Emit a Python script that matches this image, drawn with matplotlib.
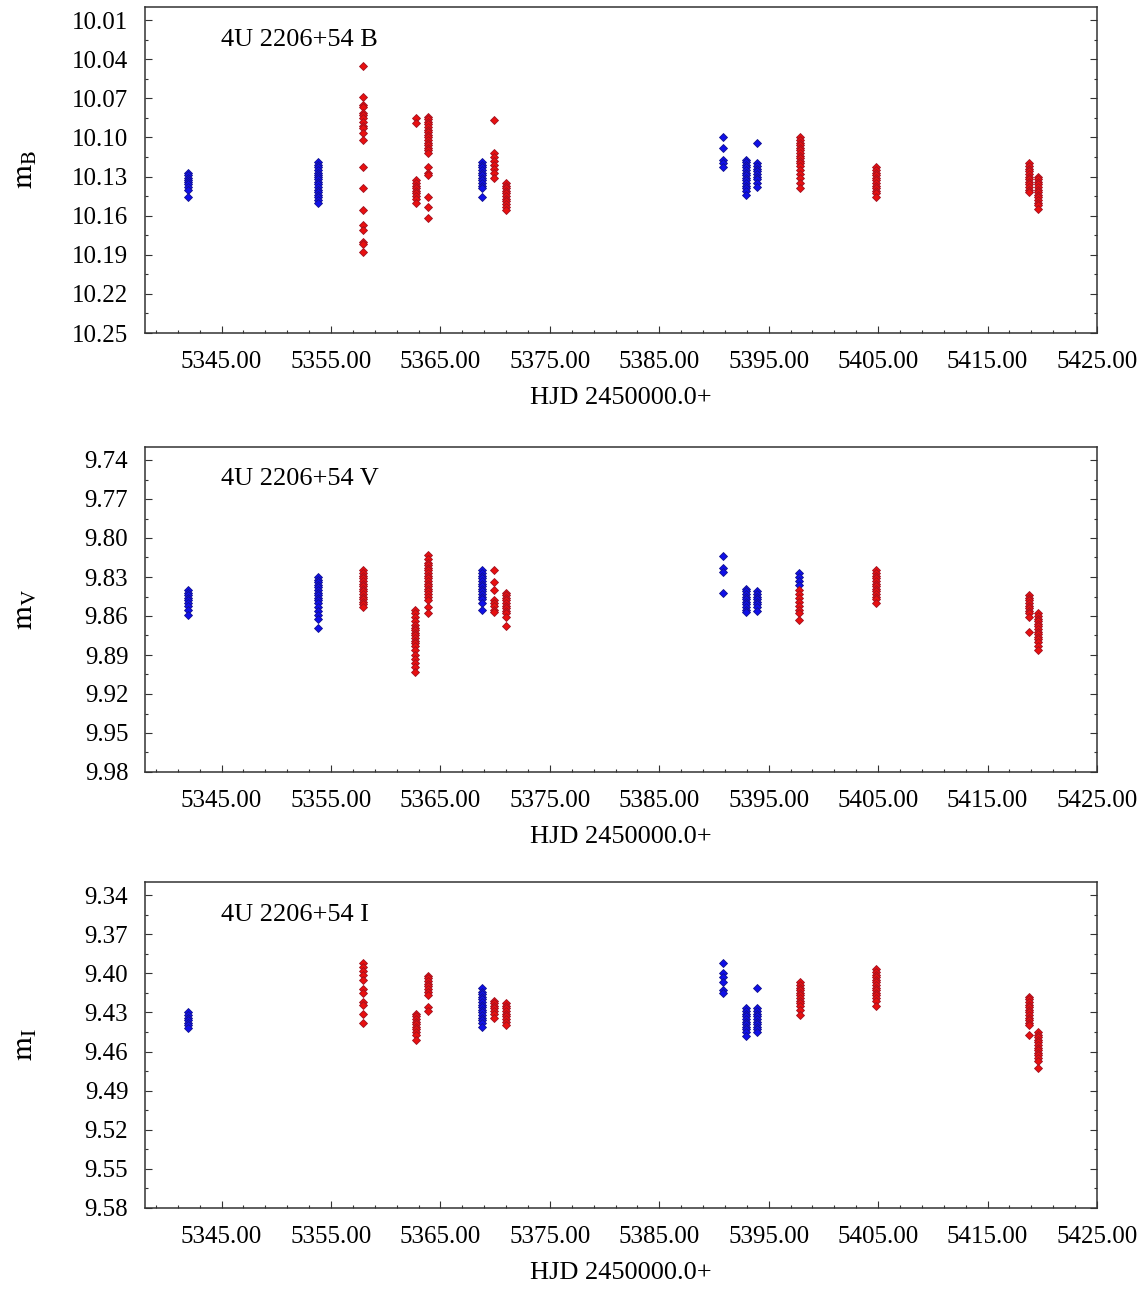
import numpy as np
import matplotlib
matplotlib.use("Agg")
import matplotlib.pyplot as plt
from matplotlib.ticker import FixedLocator, FormatStrFormatter

plt.rcParams["font.family"] = ["Liberation Serif", "DejaVu Serif"]
plt.rcParams["mathtext.fontset"] = "stix"

# ---------------- B band ----------------
b_blue_nights = [5341.9, 5353.8, 5368.8, 5390.8, 5392.9, 5393.9]
b_blue_mags = [
    [10.127, 10.129, 10.131, 10.133, 10.134, 10.136, 10.138, 10.140, 10.146],
    [10.119, 10.121, 10.123, 10.125, 10.127, 10.129, 10.130, 10.132, 10.134,
     10.136, 10.138, 10.140, 10.142, 10.144, 10.146, 10.148, 10.150],
    [10.119, 10.121, 10.123, 10.125, 10.127, 10.129, 10.131, 10.133, 10.135,
     10.137, 10.139, 10.146],
    [10.100, 10.108, 10.117, 10.120, 10.123],
    [10.117, 10.119, 10.121, 10.123, 10.125, 10.127, 10.129, 10.131, 10.133,
     10.135, 10.137, 10.139, 10.141, 10.144],
    [10.104, 10.120, 10.122, 10.124, 10.126, 10.128, 10.130, 10.132, 10.135, 10.138],
]
b_red_nights = [5357.9, 5362.8, 5363.9, 5369.9, 5371.0, 5397.9, 5404.8, 5418.8, 5419.6]
b_red_mags = [
    [10.045, 10.069, 10.075, 10.077, 10.081, 10.083, 10.085, 10.088, 10.091, 10.093,
     10.097, 10.102, 10.123, 10.139, 10.156, 10.167, 10.171, 10.180, 10.182, 10.188],
    [10.085, 10.089, 10.133, 10.135, 10.137, 10.139, 10.141, 10.143, 10.145, 10.147, 10.150],
    [10.084, 10.086, 10.088, 10.090, 10.092, 10.094, 10.096, 10.098, 10.100, 10.102,
     10.104, 10.106, 10.108, 10.110, 10.112, 10.123, 10.127, 10.129, 10.146, 10.153, 10.162],
    [10.087, 10.112, 10.115, 10.118, 10.121, 10.124, 10.127, 10.131],
    [10.135, 10.137, 10.139, 10.141, 10.143, 10.145, 10.147, 10.149, 10.151, 10.153, 10.156],
    [10.100, 10.102, 10.104, 10.106, 10.108, 10.110, 10.112, 10.114, 10.116, 10.118,
     10.120, 10.122, 10.125, 10.128, 10.131, 10.135, 10.139],
    [10.123, 10.125, 10.127, 10.129, 10.131, 10.133, 10.135, 10.137, 10.139, 10.141,
     10.143, 10.146],
    [10.120, 10.122, 10.124, 10.126, 10.128, 10.130, 10.132, 10.134, 10.136, 10.138,
     10.140, 10.142],
    [10.130, 10.132, 10.134, 10.136, 10.138, 10.140, 10.142, 10.144, 10.146, 10.148,
     10.150, 10.152, 10.155],
]

# ---------------- V band ----------------
v_blue_nights = [5341.9, 5353.8, 5368.8, 5390.8, 5392.9, 5393.9, 5397.8]
v_blue_mags = [
    [9.840, 9.842, 9.844, 9.846, 9.848, 9.850, 9.852, 9.855, 9.859],
    [9.830, 9.832, 9.834, 9.836, 9.838, 9.840, 9.842, 9.844, 9.846, 9.848, 9.850,
     9.853, 9.856, 9.859, 9.862, 9.869],
    [9.825, 9.827, 9.829, 9.831, 9.833, 9.835, 9.837, 9.839, 9.841, 9.843, 9.845,
     9.847, 9.850, 9.855],
    [9.814, 9.823, 9.826, 9.842],
    [9.839, 9.841, 9.843, 9.845, 9.847, 9.849, 9.851, 9.853, 9.855, 9.857],
    [9.841, 9.843, 9.845, 9.847, 9.849, 9.851, 9.853, 9.856],
    [9.827, 9.830, 9.833, 9.836],
]
v_red_nights = [5357.9, 5362.7, 5363.9, 5369.9, 5371.0, 5397.8, 5404.8, 5418.8, 5419.6]
v_red_mags = [
    [9.825, 9.827, 9.829, 9.831, 9.833, 9.835, 9.837, 9.839, 9.841, 9.843, 9.845,
     9.847, 9.849, 9.851, 9.853],
    [9.855, 9.858, 9.861, 9.864, 9.867, 9.869, 9.871, 9.873, 9.875, 9.877, 9.879,
     9.881, 9.883, 9.886, 9.890, 9.893, 9.896, 9.899, 9.903],
    [9.813, 9.816, 9.819, 9.821, 9.823, 9.825, 9.827, 9.829, 9.831, 9.833, 9.835,
     9.837, 9.839, 9.841, 9.843, 9.845, 9.848, 9.853, 9.858],
    [9.825, 9.834, 9.840, 9.848, 9.850, 9.852, 9.855, 9.857],
    [9.842, 9.844, 9.846, 9.848, 9.850, 9.852, 9.854, 9.856, 9.858, 9.861, 9.868],
    [9.840, 9.843, 9.846, 9.849, 9.852, 9.855, 9.858, 9.863],
    [9.825, 9.827, 9.829, 9.831, 9.833, 9.835, 9.837, 9.839, 9.841, 9.843, 9.845,
     9.847, 9.850],
    [9.844, 9.846, 9.848, 9.850, 9.852, 9.854, 9.856, 9.858, 9.861, 9.872],
    [9.858, 9.860, 9.862, 9.864, 9.866, 9.868, 9.870, 9.872, 9.874, 9.876, 9.878,
     9.880, 9.883, 9.886],
]

# ---------------- I band ----------------
i_blue_nights = [5341.9, 5368.8, 5390.8, 5392.9, 5393.9]
i_blue_mags = [
    [9.430, 9.432, 9.434, 9.436, 9.438, 9.440, 9.442],
    [9.411, 9.414, 9.416, 9.418, 9.420, 9.422, 9.424, 9.426, 9.428, 9.430, 9.432,
     9.434, 9.436, 9.438, 9.441],
    [9.392, 9.400, 9.403, 9.407, 9.413, 9.415],
    [9.427, 9.429, 9.431, 9.433, 9.435, 9.437, 9.439, 9.441, 9.443, 9.445, 9.448],
    [9.411, 9.427, 9.429, 9.431, 9.433, 9.435, 9.437, 9.439, 9.441, 9.443, 9.445],
]
i_red_nights = [5357.9, 5362.8, 5363.9, 5369.9, 5371.0, 5397.9, 5404.8, 5418.8, 5419.6]
i_red_mags = [
    [9.392, 9.395, 9.398, 9.401, 9.405, 9.412, 9.415, 9.422, 9.424, 9.431, 9.438],
    [9.431, 9.433, 9.435, 9.437, 9.439, 9.441, 9.443, 9.445, 9.447, 9.451],
    [9.402, 9.404, 9.406, 9.408, 9.410, 9.412, 9.414, 9.417, 9.426, 9.429],
    [9.421, 9.423, 9.425, 9.427, 9.429, 9.431, 9.434],
    [9.423, 9.425, 9.427, 9.429, 9.431, 9.433, 9.435, 9.437, 9.440],
    [9.407, 9.409, 9.411, 9.413, 9.415, 9.417, 9.419, 9.421, 9.423, 9.425, 9.428, 9.432],
    [9.397, 9.399, 9.401, 9.403, 9.405, 9.407, 9.409, 9.411, 9.413, 9.415, 9.417,
     9.419, 9.421, 9.425],
    [9.418, 9.420, 9.422, 9.424, 9.426, 9.428, 9.430, 9.432, 9.434, 9.436, 9.438,
     9.440, 9.447],
    [9.445, 9.447, 9.449, 9.451, 9.453, 9.455, 9.457, 9.459, 9.461, 9.463, 9.465,
     9.467, 9.473],
]

panel_titles = ["4U 2206+54 B", "4U 2206+54 V", "4U 2206+54 I"]
panel_ylabels = [r"$\mathrm{m}_{\mathrm{B}}$", r"$\mathrm{m}_{\mathrm{V}}$", r"$\mathrm{m}_{\mathrm{I}}$"]
panel_ylims = [(10.00, 10.25), (9.73, 9.98), (9.33, 9.58)]
x_label = "HJD 2450000.0+"
x_range = (5338.0, 5425.0)
x_major_ticks = [5345, 5355, 5365, 5375, 5385, 5395, 5405, 5415, 5425]

bands = [
    (b_blue_nights, b_blue_mags, b_red_nights, b_red_mags),
    (v_blue_nights, v_blue_mags, v_red_nights, v_red_mags),
    (i_blue_nights, i_blue_mags, i_red_nights, i_red_mags),
]


def flatten(nights, mags):
    xs, ys = [], []
    for n, m in zip(nights, mags):
        xs.extend([n] * len(m))
        ys.extend(m)
    return np.array(xs), np.array(ys)


fig = plt.figure(figsize=(11.46, 12.91), dpi=100)
W, H = 1146.0, 1291.0
left_px, right_px = 145, 1097
panel_px = [(7, 333), (447, 772), (882, 1208)]

for k, ((bn, bm, rn, rm), (top_px, bot_px)) in enumerate(zip(bands, panel_px)):
    ax = fig.add_axes([left_px / W, 1 - bot_px / H,
                       (right_px - left_px) / W, (bot_px - top_px) / H])
    bx, by = flatten(bn, bm)
    rx, ry = flatten(rn, rm)
    ax.plot(bx, by, linestyle="none", marker="D", ms=3.8, mfc="#1010e8",
            mec="#101090", mew=0.6, zorder=3)
    ax.plot(rx, ry, linestyle="none", marker="D", ms=3.8, mfc="#e81010",
            mec="#a01020", mew=0.6, zorder=3)

    lo, hi = panel_ylims[k]
    ax.set_xlim(*x_range)
    ax.set_ylim(hi, lo)

    ax.xaxis.set_major_locator(FixedLocator(x_major_ticks))
    ax.xaxis.set_minor_locator(FixedLocator(np.arange(5339, 5426, 2)))
    ax.xaxis.set_major_formatter(FormatStrFormatter("%.2f"))
    ax.yaxis.set_major_locator(FixedLocator(np.round(np.arange(lo + 0.01, hi + 0.001, 0.03), 3)))
    ax.yaxis.set_minor_locator(FixedLocator(np.round(np.arange(lo + 0.01, hi + 0.001, 0.015), 4)))
    ax.yaxis.set_major_formatter(FormatStrFormatter("%.2f"))

    ax.tick_params(which="both", direction="in", top=False, right=True,
                   labelsize=18, color="#333333", width=0.8)
    ax.tick_params(which="major", length=5)
    ax.tick_params(axis="x", which="major", pad=13)
    ax.tick_params(axis="y", which="major", pad=12)
    ax.tick_params(which="minor", length=2.5)
    for sp in ax.spines.values():
        sp.set_linewidth(1.1)
        sp.set_color("#333333")

    ax.text(0.08, 0.90, panel_titles[k], transform=ax.transAxes,
            fontsize=19, ha="left", va="center")
    ax.set_xlabel(x_label, fontsize=19)
    ax.xaxis.set_label_coords(0.5, -0.2)
    ax.xaxis.label.set_va("center")
    ax.set_ylabel(panel_ylabels[k], fontsize=22)
    ax.yaxis.set_label_coords(-0.126, 0.5)
    ax.yaxis.label.set_va("center")

fig.savefig("out.png", dpi=100)
